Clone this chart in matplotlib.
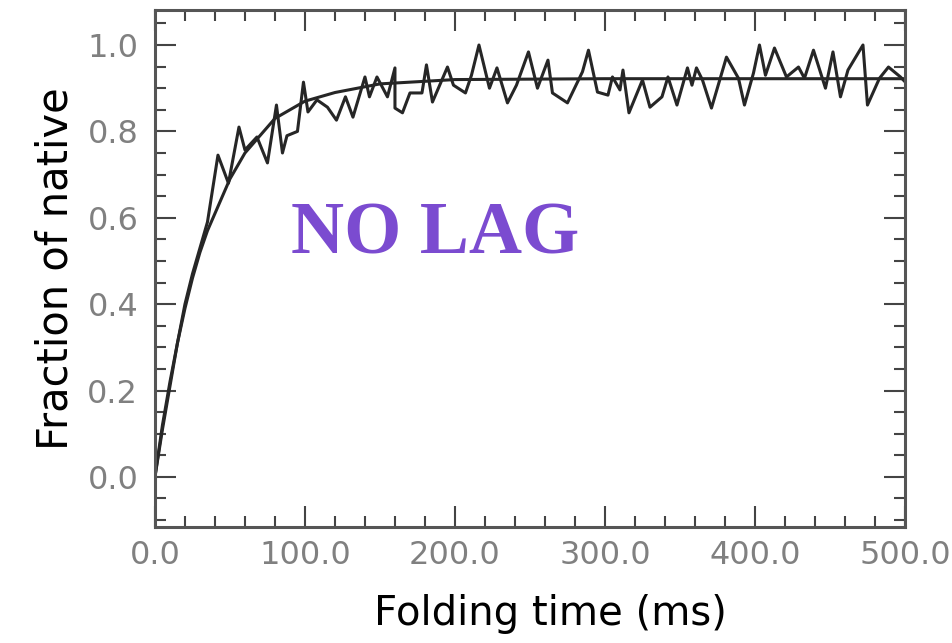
import matplotlib
matplotlib.use("Agg")
import matplotlib.pyplot as plt
from matplotlib.ticker import MultipleLocator, FormatStrFormatter

t_data = [0, 5, 10, 15, 20, 25, 30, 35, 42, 49, 56, 60, 68, 75, 81, 85, 88, 95,
          99, 102, 108, 115, 121, 127, 132, 140, 143, 148, 155, 160, 160, 165,
          170, 178, 181, 185, 195, 199, 207, 211, 216, 223, 228, 235, 241, 249,
          255, 262, 265, 275, 285, 289, 295, 302, 305, 310, 312, 316, 325, 330,
          338, 342, 348, 355, 358, 361, 365, 371, 381, 389, 393, 399, 403, 407,
          413, 421, 429, 433, 439, 447, 452, 457, 462, 472, 475, 483, 489, 497, 500]
y_data = [0.0, 0.11, 0.21, 0.31, 0.40, 0.47, 0.53, 0.59, 0.745, 0.68, 0.81, 0.757,
          0.787, 0.727, 0.861, 0.75, 0.79, 0.80, 0.914, 0.845, 0.873, 0.856, 0.826,
          0.88, 0.833, 0.926, 0.88, 0.926, 0.88, 0.947, 0.854, 0.843, 0.889, 0.889,
          0.954, 0.868, 0.949, 0.907, 0.889, 0.93, 1.0, 0.90, 0.947, 0.866, 0.907,
          0.984, 0.90, 0.965, 0.889, 0.866, 0.938, 0.988, 0.891, 0.884, 0.926, 0.896,
          0.942, 0.843, 0.919, 0.856, 0.88, 0.926, 0.861, 0.947, 0.907, 0.947, 0.919,
          0.854, 0.972, 0.923, 0.861, 0.935, 1.0, 0.93, 0.993, 0.926, 0.949, 0.923,
          0.988, 0.90, 0.984, 0.88, 0.942, 1.0, 0.861, 0.923, 0.949, 0.926, 0.915]

# Anpassungskurve
t_fit = [0, 5, 10, 15, 20, 25, 30, 35, 40, 45, 50, 60, 70, 80, 90, 100, 120,
         150, 200, 300, 500]
y_fit = [0.0, 0.12, 0.22, 0.31, 0.39, 0.46, 0.52, 0.57, 0.61, 0.65, 0.69, 0.75,
         0.79, 0.83, 0.85, 0.87, 0.89, 0.91, 0.92, 0.922, 0.922]

fig = plt.figure(figsize=(9.53, 6.43), dpi=100)
ax = fig.add_axes([0.1626, 0.1804, 0.787, 0.804])

ax.plot(t_data, y_data, color='#262626', lw=2.2)
ax.plot(t_fit, y_fit, color='#262626', lw=2.2)

ax.set_xlim(0, 500)
ax.set_ylim(-0.116, 1.081)

ax.xaxis.set_major_locator(MultipleLocator(100))
ax.xaxis.set_minor_locator(MultipleLocator(20))
ax.yaxis.set_major_locator(MultipleLocator(0.2))
ax.yaxis.set_minor_locator(MultipleLocator(0.05))
ax.xaxis.set_major_formatter(FormatStrFormatter('%.1f'))
ax.yaxis.set_major_formatter(FormatStrFormatter('%.1f'))
ax.set_yticks([0.0, 0.2, 0.4, 0.6, 0.8, 1.0])

ax.tick_params(which='both', direction='in', top=True, right=True,
               color='#444444', width=1.5)
ax.tick_params(which='major', length=15)
ax.tick_params(which='minor', length=8)
ax.tick_params(axis='x', which='major', labelsize=23, labelcolor='#808080', pad=9)
ax.tick_params(axis='y', which='major', labelsize=23, labelcolor='#808080', pad=12)

for s in ax.spines.values():
    s.set_color('#555555')
    s.set_linewidth(2.2)

ax.set_xlabel('Folding time (ms)', fontsize=29)
ax.xaxis.set_label_coords(0.527, -0.13)
ax.set_ylabel('Fraction of native', fontsize=30, labelpad=8)

ax.text(187, 0.558, 'NO LAG', fontsize=53, fontweight='bold',
        family='Liberation Serif', color='#7B4BD0', ha='center', va='center')

fig.savefig('out.png', dpi=100)
